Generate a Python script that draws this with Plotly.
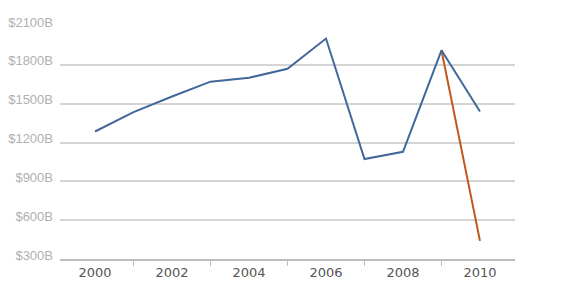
import plotly.graph_objects as go

years = [2000, 2001, 2002, 2003, 2004, 2005, 2006, 2007, 2008, 2009, 2010]
blue_values = [1285, 1435, 1555, 1670, 1700, 1770, 2003, 1072, 1128, 1912, 1440]
orange_values = [None, None, None, None, None, None, None, None, None, 1912, 440]
x_label_years = [2000, 2002, 2004, 2006, 2008, 2010]
x_minor_years = [2001, 2003, 2005, 2007, 2009]
y_ticks = [300, 600, 900, 1200, 1500, 1800, 2100]
y_tick_text = ["$300B", "$600B", "$900B", "$1200B", "$1500B", "$1800B", "$2100B"]

fig = go.Figure()
fig.add_trace(go.Scatter(x=years, y=orange_values, mode="lines",
                         line=dict(color="#c0561a", width=2), connectgaps=False,
                         hoverinfo="skip"))
fig.add_trace(go.Scatter(x=years, y=blue_values, mode="lines",
                         line=dict(color="#41689a", width=2), hoverinfo="skip"))

fig.update_layout(
    width=575, height=300,
    margin=dict(l=60, r=60, t=26, b=41),
    plot_bgcolor="white", paper_bgcolor="white",
    showlegend=False,
    xaxis=dict(
        range=[1999.09, 2010.91],
        tickvals=x_label_years,
        ticktext=[str(y) for y in x_label_years],
        ticks="", showgrid=False, zeroline=False,
        showline=True, linecolor="#bdbdbd", linewidth=2,
        tickfont=dict(family="DejaVu Sans", size=13, color="#555555"),
        minor=dict(tickvals=x_minor_years, ticks="outside", ticklen=5,
                   tickcolor="#bdbdbd", tickwidth=1, showgrid=False),
        automargin=False,
        fixedrange=True,
    ),
    yaxis=dict(
        range=[300, 2100],
        tickvals=y_ticks, ticktext=y_tick_text,
        showgrid=True, gridcolor="#d4d4d4", gridwidth=1.5,
        zeroline=False, showline=False, ticks="",
        ticklabelstandoff=6,
        ticklabelshift=-4,
        tickfont=dict(family="Liberation Sans", size=13, color="#b0b0b0"),
        automargin=False,
        fixedrange=True,
    ),
)

fig.write_html("out.html")
